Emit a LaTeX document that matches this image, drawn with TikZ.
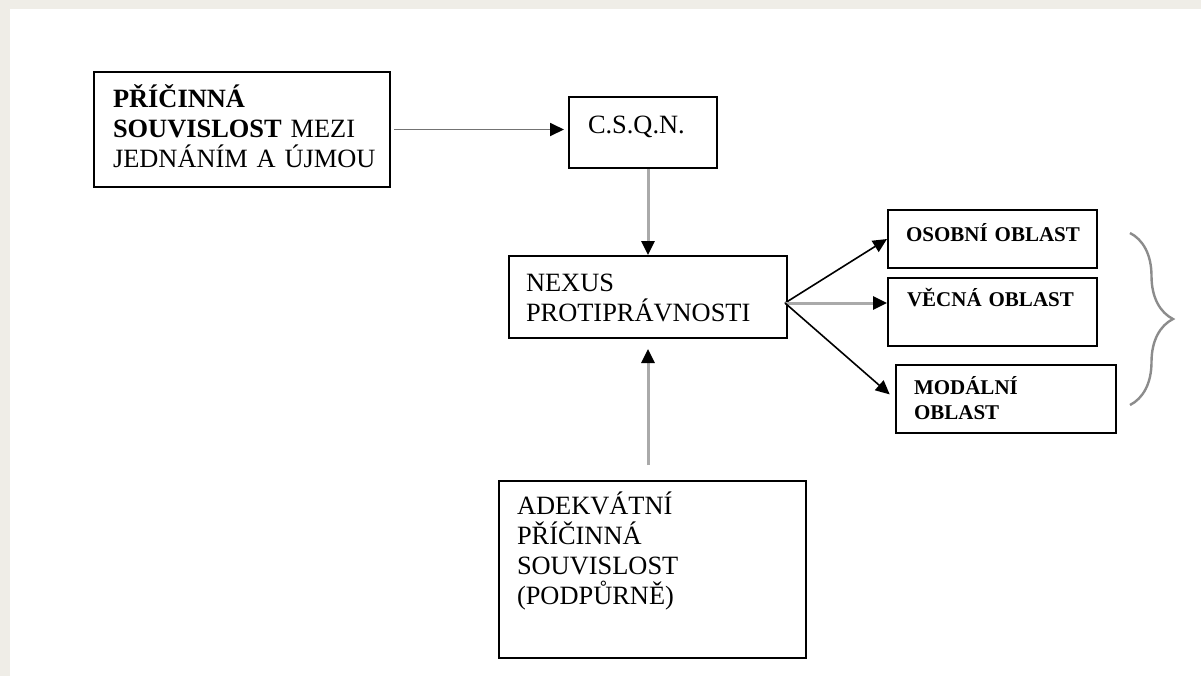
\documentclass[tikz,border=0pt]{standalone}
\usepackage{fontspec}
\setmainfont{Liberation Serif}
\usetikzlibrary{arrows.meta,decorations.pathreplacing}
\definecolor{pagebeige}{RGB}{239,237,231}
\definecolor{linegray}{RGB}{170,170,170}
\definecolor{bracegray}{RGB}{140,140,140}
\tikzset{
	box/.style={draw, line width=1pt, anchor=north west, align=left, inner ysep=0pt,
		font=\fontsize{13.2}{15}\selectfont, execute at begin node={\hyphenpenalty=10000}},
	smallbox/.style={box, font=\fontsize{10.5}{12.5}\selectfont\bfseries},
	tip/.style={-{Triangle[length=7pt,width=6.5pt,color=black]}},
	darklink/.style={tip, line width=0.9pt, black!55},
	lightlink/.style={tip, line width=1.5pt, linegray},
	blacklink/.style={tip, line width=0.8pt, black}
}
\begin{document}
\begin{tikzpicture}[x=0.5pt, y=-0.5pt]
	\useasboundingbox (0,0) rectangle (1201,676);
	\fill[pagebeige] (0,0) rectangle (1201,676);
	\fill[white] (10,9) rectangle (1201,676);
	
	% left part
	\node[box, inner xsep=9.5pt, text width=129pt, text height=17.5pt, text depth=40pt] (cause) at (93,71)
		{\textbf{PŘÍČINNÁ}\\ \mbox{\textbf{SOUVISLOST} MEZI}\\ \mbox{JEDNÁNÍM A ÚJMOU}};
	\node[box, inner xsep=9.5pt, text width=55pt, text height=18pt, text depth=17.5pt] (csqn) at (568,96) {C.S.Q.N.};
	\node[box, inner xsep=8.5pt, text width=122pt, text height=17.5pt, text depth=23.5pt] (nexus) at (508,255)
		{NEXUS\\ PROTIPRÁVNOSTI};
	\node[box, inner xsep=9pt, text width=135.5pt, text height=16.5pt, text depth=72pt] (adequate) at (498,480)
		{ADEKVÁTNÍ\\ PŘÍČINNÁ\\ SOUVISLOST\\ (PODPŮRNĚ)};
	
	% right part
	\node[smallbox, inner xsep=9pt, text width=86.5pt, text height=15.5pt, text depth=13.5pt] (personal) at (887,209) {\mbox{OSOBNÍ OBLAST}};
	\node[smallbox, inner xsep=9.5pt, text width=85.5pt, text height=14pt, text depth=20pt] (material) at (887,277) {\mbox{VĚCNÁ OBLAST}};
	\node[smallbox, inner xsep=9pt, text width=92pt, text height=14.5pt, text depth=19.5pt] (modal) at (895,364)
		{MODÁLNÍ\\ OBLAST};
	
	\coordinate (split) at ([xshift=-1.5pt, yshift=-3pt]nexus.east);
	
	\draw[darklink, shorten <=1.5pt, shorten >=2pt] (cause.east) -- (cause.east -| csqn.west);
	\draw[lightlink] (csqn.south -| nexus.north) -- (nexus.north);
	\draw[lightlink, shorten <=7.5pt, shorten >=5pt] (adequate.north -| nexus.south) -- (nexus.south);
	
	\draw[blacklink] (split) -- (personal.west);
	\draw[lightlink] (split) -- (split -| material.west);
	\draw[blacklink, shorten >=3.5pt] (split) -- (modal.west);
	
	% brace
	\draw[bracegray, line width=1.2pt, decorate, decoration={brace, amplitude=21.5pt}] (1130,233) -- (1130,405);
\end{tikzpicture}
\end{document}
